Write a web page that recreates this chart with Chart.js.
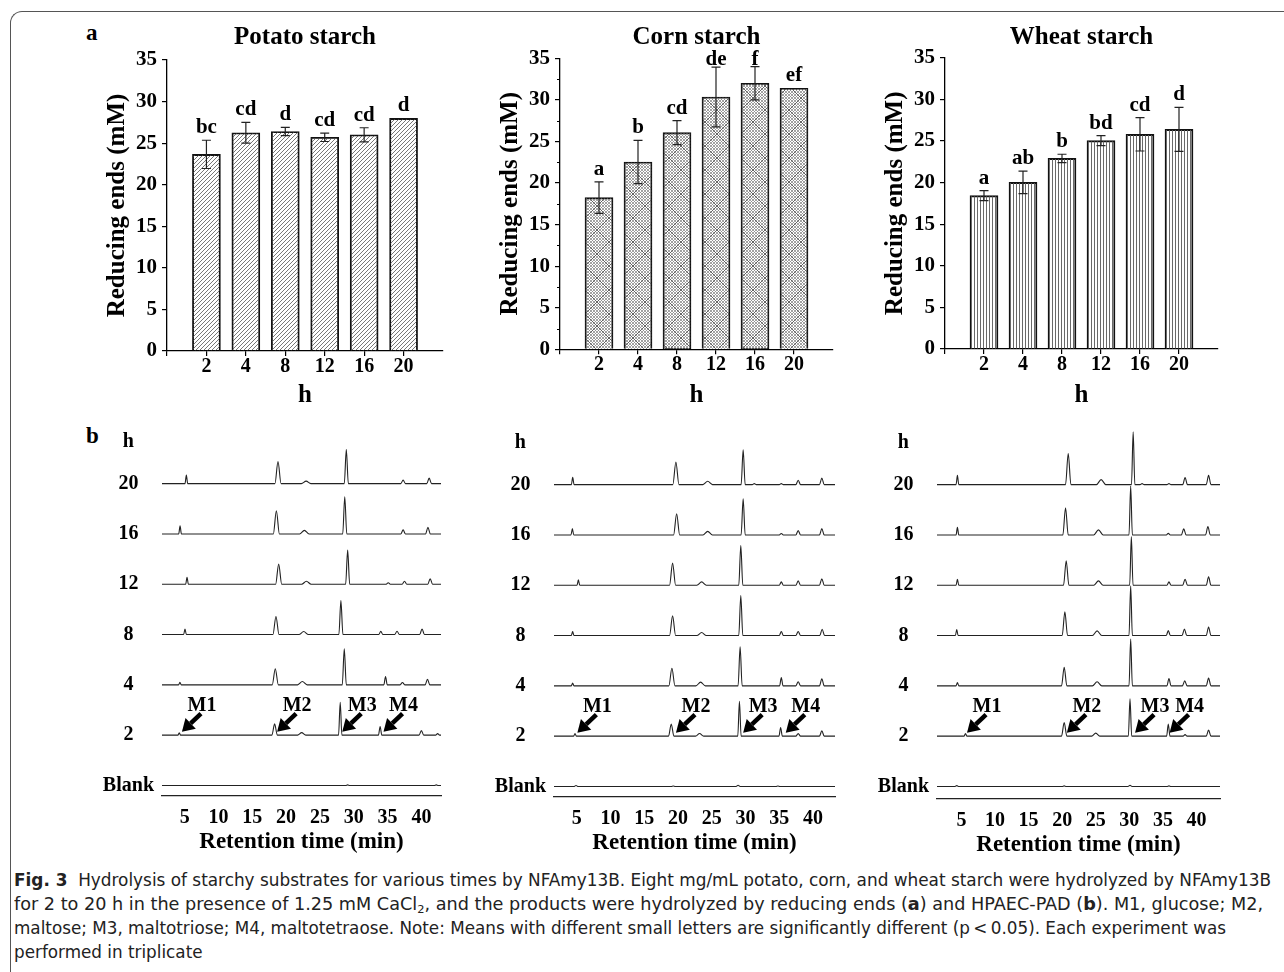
<!DOCTYPE html>
<html>
<head>
<meta charset="utf-8">
<script src="https://cdn.jsdelivr.net/npm/chart.js@4.4.1/dist/chart.umd.min.js"></script>
<style>
  html, body { margin: 0; padding: 0; background: #fff; }
  body { width: 1284px; height: 972px; position: relative; overflow: hidden; }
  .frame { position: absolute; left: 10px; top: 11px; width: 1320px; height: 1000px;
           border-left: 1.5px solid #555; border-top: 1.5px solid #555; border-top-left-radius: 12px; }
  canvas { position: absolute; }
  .tag { position: absolute; font: bold 23px "Liberation Serif", "Times New Roman", serif; line-height: 23px; }
  .caption { position: absolute; left: 14px; top: 868px; color: #222;
             font-family: "Liberation Sans Narrow", "DejaVu Sans Condensed", "Noto Sans", sans-serif;
             font-size: 17px; line-height: 24px; }
  .caption div { white-space: nowrap; width: max-content; transform-origin: 0 50%; }
  .caption sub { font-size: 11px; line-height: 0; vertical-align: -3px; }
</style>
</head>
<body>
<div class="frame"></div>
<div class="tag" style="left:86px; top:21px;">a</div>
<div class="tag" style="left:86px; top:424px;">b</div>

<canvas id="potatoBars"></canvas>
<canvas id="cornBars"></canvas>
<canvas id="wheatBars"></canvas>
<canvas id="potatoHplc"></canvas>
<canvas id="cornHplc"></canvas>
<canvas id="wheatHplc"></canvas>

<div class="caption" id="caption">
  <div><b>Fig. 3</b>&nbsp; Hydrolysis of starchy substrates for various times by NFAmy13B. Eight mg/mL potato, corn, and wheat starch were hydrolyzed by NFAmy13B</div>
  <div>for 2 to 20 h in the presence of 1.25 mM CaCl<sub>2</sub>, and the products were hydrolyzed by reducing ends (<b>a</b>) and HPAEC-PAD (<b>b</b>). M1, glucose; M2,</div>
  <div>maltose; M3, maltotriose; M4, maltotetraose. Note: Means with different small letters are significantly different (p&thinsp;&lt;&thinsp;0.05). Each experiment was</div>
  <div>performed in triplicate</div>
</div>

<script>
// ---- data ----
const hours = ['2', '4', '8', '12', '16', '20'];

const potatoMeans = [23.65, 26.25, 26.4, 25.7, 26.0, 27.98];
const potatoErr = [1.7, 1.25, 0.5, 0.5, 0.85, 0];
const potatoLetters = ['bc', 'cd', 'd', 'cd', 'cd', 'd'];

const cornMeans = [18.24, 22.53, 26.06, 30.35, 32.0, 31.4];
const cornErr = [1.9, 2.6, 1.45, 3.6, 2.0, 0.05];
const cornLetters = ['a', 'b', 'cd', 'de', 'f', 'ef'];

const wheatMeans = [18.42, 20.02, 22.9, 25.03, 25.79, 26.39];
const wheatErr = [0.6, 1.35, 0.5, 0.6, 2.0, 2.65];
const wheatLetters = ['a', 'ab', 'b', 'bd', 'cd', 'd'];

// chromatogram rows, top to bottom; y label list is bottom to top (+ "h" header)
const rowLabels = ['Blank', '2', '4', '8', '12', '16', '20', 'h'];
const rowPos = [6, 5, 4, 3, 2, 1, 0];   // 20h ... Blank
const retentionTicks = [5, 10, 15, 20, 25, 30, 35, 40];
const markerNames = ['M1', 'M2', 'M3', 'M4'];

// peaks per row: [retention time (min), height (row units), half width (min)]
const potatoPeaks = [
  [[5.25, 0.17, 0.2], [18.8, 0.44, 0.45], [22.96, 0.05, 0.7], [28.9, 0.68, 0.3], [37.3, 0.07, 0.35], [41.15, 0.11, 0.35]],
  [[4.32, 0.16, 0.2], [18.56, 0.46, 0.45], [22.7, 0.07, 0.7], [28.67, 0.74, 0.3], [37.3, 0.08, 0.35], [40.97, 0.13, 0.35]],
  [[5.35, 0.14, 0.2], [18.9, 0.40, 0.45], [23.0, 0.06, 0.7], [29.1, 0.68, 0.3], [35.1, 0.03, 0.3], [37.5, 0.06, 0.35], [41.3, 0.11, 0.35]],
  [[5.05, 0.11, 0.2], [18.5, 0.36, 0.45], [22.6, 0.06, 0.7], [28.1, 0.675, 0.3], [34.0, 0.066, 0.3], [36.4, 0.066, 0.35], [40.1, 0.11, 0.35]],
  [[4.3, 0.05, 0.2], [18.4, 0.32, 0.45], [22.4, 0.066, 0.7], [28.6, 0.715, 0.3], [34.7, 0.166, 0.25], [37.2, 0.046, 0.35], [40.9, 0.11, 0.35]],
  [[4.2, 0.046, 0.2], [18.3, 0.225, 0.4], [22.3, 0.05, 0.6], [28.0, 0.655, 0.25], [33.9, 0.17, 0.25], [40.0, 0.09, 0.35], [42.4, 0.03, 0.3]],
  [[29.1, 0.012, 0.3], [42.2, 0.012, 0.3]]
];
const cornPeaks = [
  [[4.41, 0.146, 0.2], [19.69, 0.45, 0.45], [24.4, 0.066, 0.7], [29.65, 0.695, 0.3], [31.3, 0.02, 0.3], [35.3, 0.02, 0.3], [37.8, 0.086, 0.35], [41.3, 0.13, 0.35]],
  [[4.36, 0.126, 0.2], [19.8, 0.42, 0.45], [24.4, 0.07, 0.7], [29.65, 0.72, 0.3], [35.3, 0.03, 0.3], [37.8, 0.086, 0.35], [41.3, 0.126, 0.35]],
  [[5.25, 0.106, 0.2], [19.2, 0.44, 0.45], [23.5, 0.066, 0.7], [29.3, 0.79, 0.3], [35.3, 0.066, 0.3], [37.8, 0.086, 0.35], [41.3, 0.13, 0.35]],
  [[4.4, 0.08, 0.2], [19.2, 0.39, 0.45], [23.5, 0.06, 0.7], [29.3, 0.795, 0.3], [35.3, 0.08, 0.3], [37.8, 0.08, 0.35], [41.35, 0.126, 0.35]],
  [[4.4, 0.053, 0.2], [19.1, 0.35, 0.45], [23.35, 0.073, 0.7], [29.2, 0.775, 0.3], [35.3, 0.166, 0.25], [37.8, 0.08, 0.35], [41.3, 0.14, 0.35]],
  [[4.75, 0.053, 0.2], [19.0, 0.24, 0.4], [23.2, 0.053, 0.6], [29.1, 0.695, 0.25], [35.2, 0.17, 0.25], [37.8, 0.05, 0.35], [41.3, 0.106, 0.35]],
  [[4.9, 0.02, 0.25], [19.3, 0.01, 0.3], [28.9, 0.025, 0.3], [34.8, 0.01, 0.3]]
];
const wheatPeaks = [
  [[4.4, 0.185, 0.2], [20.9, 0.62, 0.4], [25.8, 0.1, 0.7], [30.57, 1.05, 0.25], [31.9, 0.02, 0.3], [35.9, 0.02, 0.3], [38.3, 0.14, 0.35], [41.8, 0.185, 0.35]],
  [[4.4, 0.153, 0.2], [20.5, 0.54, 0.4], [25.4, 0.1, 0.7], [30.2, 0.97, 0.25], [35.8, 0.03, 0.3], [38.1, 0.12, 0.35], [41.7, 0.166, 0.35]],
  [[4.4, 0.12, 0.2], [20.6, 0.486, 0.4], [25.4, 0.086, 0.7], [30.3, 0.97, 0.25], [35.9, 0.066, 0.3], [38.3, 0.12, 0.35], [41.8, 0.166, 0.35]],
  [[4.3, 0.12, 0.2], [20.4, 0.47, 0.4], [25.2, 0.093, 0.7], [30.2, 0.99, 0.25], [35.8, 0.1, 0.3], [38.2, 0.13, 0.35], [41.8, 0.17, 0.35]],
  [[4.4, 0.066, 0.2], [20.3, 0.366, 0.4], [25.2, 0.08, 0.7], [30.2, 0.93, 0.25], [35.9, 0.146, 0.3], [38.25, 0.1, 0.35], [41.8, 0.153, 0.35]],
  [[5.6, 0.053, 0.2], [20.3, 0.27, 0.4], [25.0, 0.06, 0.6], [30.1, 0.74, 0.25], [35.8, 0.24, 0.25], [38.3, 0.03, 0.3], [41.8, 0.12, 0.35]],
  [[4.3, 0.015, 0.25], [20.3, 0.01, 0.3], [30.1, 0.02, 0.3], [35.9, 0.01, 0.3]]
];

// arrow tips (retention time) for M1..M4 on the 2 h trace
const potatoArrows = [4.6, 18.67, 28.3, 34.4];
const cornArrows = [5.1, 19.7, 29.65, 35.96];
const wheatArrows = [5.83, 20.7, 30.85, 36.0];

const SERIF = '"Liberation Serif", "Times New Roman", serif';

// ---- hatch fills ----
function hatch(kind) {
  const c = document.createElement('canvas');
  const g = c.getContext('2d');
  if (kind === 'diag') {
    c.width = c.height = 4;
    g.strokeStyle = '#555'; g.lineWidth = 0.8;
    g.beginPath();
    for (const k of [-4, 0, 4]) { g.moveTo(k, 4); g.lineTo(k + 4, 0); }
    g.stroke();
  } else if (kind === 'vert') {
    c.width = 3; c.height = 4;
    g.fillStyle = '#6a6a6a';
    g.fillRect(1, 0, 1, 4);
  } else {
    // fine cross-hatch with faint coarse diagonals
    c.width = c.height = 24;
    g.strokeStyle = '#8c8c8c'; g.lineWidth = 0.8;
    g.beginPath();
    for (let k = -24; k <= 24; k += 3) {
      g.moveTo(k, 24); g.lineTo(k + 24, 0);
      g.moveTo(k, 0); g.lineTo(k + 24, 24);
    }
    g.stroke();
    g.strokeStyle = '#555'; g.lineWidth = 0.8;
    g.beginPath();
    for (const k of [-24, 0, 24]) {
      g.moveTo(k, 24); g.lineTo(k + 24, 0);
      g.moveTo(k, 0); g.lineTo(k + 24, 24);
    }
    g.stroke();
  }
  return g.createPattern(c, 'repeat');
}

// error bars, significance letters and minor ticks
const errorBars = {
  id: 'errorBars',
  afterDatasetsDraw(chart, args, opts) {
    const {ctx, chartArea, scales: {x, y}} = chart;
    const pts = chart.data.datasets[0].data;
    ctx.save();
    ctx.strokeStyle = '#222';
    ctx.lineWidth = 1.2;
    ctx.fillStyle = '#000';
    ctx.font = 'bold 21px ' + SERIF;
    ctx.textAlign = 'center';
    ctx.textBaseline = 'alphabetic';
    pts.forEach((p, i) => {
      const e = opts.err[i];
      const px = x.getPixelForValue(p.x);
      const top = y.getPixelForValue(p.y + e);
      const bot = y.getPixelForValue(p.y - e);
      if (e > 0.1) {
        ctx.beginPath();
        ctx.moveTo(px, top); ctx.lineTo(px, bot);
        ctx.moveTo(px - 4.5, top); ctx.lineTo(px + 4.5, top);
        ctx.moveTo(px - 4.5, bot); ctx.lineTo(px + 4.5, bot);
        ctx.stroke();
      }
      ctx.fillText(opts.letters[i], px, Math.max(top - 7, chartArea.top + 7));
    });
    if (opts.minor) {
      ctx.strokeStyle = '#000';
      ctx.beginPath();
      for (let v = 2.5; v < 35; v += 5) {
        const py = Math.round(y.getPixelForValue(v)) + 0.5;
        ctx.moveTo(x.left, py); ctx.lineTo(x.left - 3, py);
      }
      ctx.stroke();
    }
    ctx.restore();
  }
};

function barChart(id, g, title, means, errs, letters, fill, minor) {
  const el = document.getElementById(id);
  el.width = g.w; el.height = g.h;
  el.style.left = g.left + 'px'; el.style.top = g.top + 'px';
  const tickFont = {family: SERIF, size: 20, weight: 'bold'};
  return new Chart(el, {
    type: 'bar',
    data: {
      datasets: [{
        data: means.map((v, i) => ({x: i + 1, y: v})),
        backgroundColor: fill,
        borderColor: '#111',
        borderWidth: 1.2,
        borderSkipped: 'bottom',
        barThickness: 28
      }]
    },
    options: {
      responsive: false,
      animation: false,
      layout: {padding: {left: 43, right: 17, top: 9, bottom: 5}},
      plugins: {
        legend: {display: false},
        tooltip: {enabled: false},
        title: {
          display: true, text: title, fullSize: false, color: '#000',
          font: {family: SERIF, size: 25, weight: 'bold'},
          padding: {top: 0, bottom: g.titleGap}
        },
        errorBars: {err: errs, letters: letters, minor: minor}
      },
      scales: {
        x: {
          type: 'linear', min: 0, max: 7, offset: false,
          afterBuildTicks: s => { s.ticks = [0, 1, 2, 3, 4, 5, 6].map(v => ({value: v})); },
          afterFit: s => { s.height = g.xh; s.paddingLeft = 0; s.paddingRight = 0; },
          grid: {display: true, offset: false, drawOnChartArea: false, drawTicks: true, tickLength: 5, color: '#000', lineWidth: 1.2},
          border: {display: true, color: '#000', width: 1.3},
          ticks: {color: '#000', font: tickFont, padding: -1, autoSkip: false, maxRotation: 0,
                  callback: v => (v >= 1 ? hours[v - 1] : '')},
          title: {display: true, text: 'h', color: '#000', font: {family: SERIF, size: 25, weight: 'bold'}, padding: 0}
        },
        y: {
          min: 0, max: 35,
          afterFit: s => { s.width = 64; s.paddingTop = 0; s.paddingBottom = 0; },
          grid: {display: true, drawOnChartArea: false, drawTicks: true, tickLength: 5, color: '#000', lineWidth: 1.2},
          border: {display: true, color: '#000', width: 1.3},
          ticks: {stepSize: 5, color: '#000', font: {family: SERIF, size: 21, weight: 'bold'}, padding: 5},
          title: {display: true, text: 'Reducing ends (mM)', color: '#000', font: {family: SERIF, size: 25, weight: 'bold'}, padding: 0}
        }
      }
    },
    plugins: [errorBars]
  });
}

// arrows with M1..M4 labels
const peakArrows = {
  id: 'peakArrows',
  afterDatasetsDraw(chart, args, opts) {
    const {ctx, scales: {x, y}} = chart;
    ctx.save();
    ctx.fillStyle = '#000';
    ctx.strokeStyle = '#000';
    ctx.font = 'bold 20px ' + SERIF;
    ctx.textAlign = 'center';
    ctx.textBaseline = 'alphabetic';
    opts.tips.forEach((rt, i) => {
      const tx = x.getPixelForValue(rt);
      const ty = y.getPixelForValue(1) - 3.5;
      const ex = tx + 19, ey = ty - 18;
      const len = Math.hypot(ex - tx, ey - ty);
      const ux = (ex - tx) / len, uy = (ey - ty) / len;
      const bx = tx + ux * 12, by = ty + uy * 12;
      ctx.lineWidth = 4.5;
      ctx.beginPath();
      ctx.moveTo(ex, ey); ctx.lineTo(bx, by);
      ctx.stroke();
      ctx.beginPath();
      ctx.moveTo(tx, ty);
      ctx.lineTo(bx - uy * 7.5, by + ux * 7.5);
      ctx.lineTo(bx + uy * 7.5, by - ux * 7.5);
      ctx.closePath();
      ctx.fill();
      ctx.fillText(markerNames[i], ex + 1, ey - 3);
    });
    ctx.restore();
  }
};

function hplcChart(id, g, peaks, tips) {
  const el = document.getElementById(id);
  el.width = g.w; el.height = g.h;
  el.style.left = g.left + 'px'; el.style.top = g.top + 'px';
  const unit = 50.3;
  const ymax = g.ymin + (g.h - 70) / unit;
  const datasets = peaks.map((row, r) => {
    const base = rowPos[r];
    const pts = [{x: g.xmin, y: base}];
    row.forEach(([rt, h, w]) => {
      pts.push({x: rt - w, y: base}, {x: rt, y: base + h}, {x: rt + w, y: base});
    });
    pts.push({x: g.xmax, y: base});
    return {data: pts, borderColor: '#222', borderWidth: 1.1, pointRadius: 0, cubicInterpolationMode: 'monotone'};
  });
  const font = {family: SERIF, size: 20, weight: 'bold'};
  return new Chart(el, {
    type: 'line',
    data: {datasets},
    options: {
      responsive: false,
      animation: false,
      layout: {padding: {left: 0, right: 9, top: 10, bottom: 0}},
      plugins: {legend: {display: false}, tooltip: {enabled: false}, peakArrows: {tips}},
      scales: {
        x: {
          type: 'linear', min: g.xmin, max: g.xmax,
          afterBuildTicks: s => { s.ticks = retentionTicks.map(v => ({value: v})); },
          afterFit: s => { s.height = 60; s.paddingLeft = 0; s.paddingRight = 0; },
          grid: {display: true, drawOnChartArea: false, drawTicks: false},
          border: {display: true, color: '#222', width: 1.2},
          ticks: {color: '#000', font, padding: 10, autoSkip: false, maxRotation: 0},
          title: {display: true, text: 'Retention time (min)', color: '#000', font: {family: SERIF, size: 23, weight: 'bold'}, padding: 0}
        },
        y: {
          type: 'linear', min: g.ymin, max: ymax,
          afterBuildTicks: s => { s.ticks = [0, 1, 2, 3, 4, 5, 6, 6.83].map(v => ({value: v})); },
          afterFit: s => { s.width = g.yw; s.paddingTop = 0; s.paddingBottom = 0; },
          grid: {display: true, drawOnChartArea: false, drawTicks: false},
          border: {display: false},
          ticks: {color: '#000', font, padding: 8, crossAlign: 'center', autoSkip: false,
                  callback: (v, i) => rowLabels[i]}
        }
      }
    },
    plugins: [peakArrows]
  });
}

barChart('potatoBars', {left: 60, top: 14, w: 400, h: 402, titleGap: 7, xh: 60},
  'Potato starch', potatoMeans, potatoErr, potatoLetters, hatch('diag'), false);
barChart('cornBars', {left: 453, top: 14, w: 397, h: 402, titleGap: 5.3, xh: 61.7},
  'Corn starch', cornMeans, cornErr, cornLetters, hatch('cross'), true);
barChart('wheatBars', {left: 838, top: 14, w: 397, h: 402, titleGap: 4.7, xh: 62},
  'Wheat starch', wheatMeans, wheatErr, wheatLetters, hatch('vert'), false);

hplcChart('potatoHplc', {left: 80, top: 420, w: 370, h: 436, yw: 82, xmin: 1.65, xmax: 42.9, ymin: -0.21}, potatoPeaks, potatoArrows);
hplcChart('cornHplc', {left: 472, top: 420, w: 372, h: 437, yw: 82, xmin: 1.64, xmax: 43.25, ymin: -0.21}, cornPeaks, cornArrows);
hplcChart('wheatHplc', {left: 855, top: 420, w: 374, h: 439, yw: 82, xmin: 1.36, xmax: 43.5, ymin: -0.25}, wheatPeaks, wheatArrows);

// fit caption lines to the printed line widths
const lineWidths = [1257, 1249, 1212];
const lines = document.querySelectorAll('#caption div');
let lastScale = 1;
lines.forEach((d, i) => {
  const w = d.getBoundingClientRect().width;
  if (i < lineWidths.length) lastScale = lineWidths[i] / w;
  d.style.transform = 'scaleX(' + lastScale + ')';
});
</script>
</body>
</html>
